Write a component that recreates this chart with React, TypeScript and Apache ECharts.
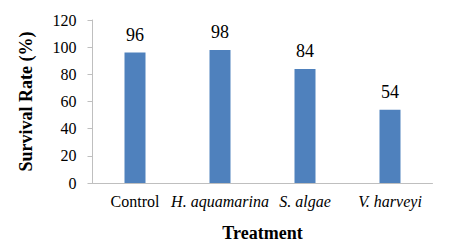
import React, { useEffect, useRef } from "react";
import * as echarts from "echarts";

const categories = ["Control", "H. aquamarina", "S. algae", "V. harveyi"];
const italicCategories = ["H. aquamarina", "S. algae", "V. harveyi"];
const survivalRate = [96, 98, 84, 54];
const yTicks = [0, 20, 40, 60, 80, 100, 120];

const FONT = "Liberation Serif";

export default function App() {
  const ref = useRef<HTMLDivElement>(null);
  useEffect(() => {
    if (!ref.current) return;
    const chart = echarts.init(ref.current, undefined, { renderer: "svg" });
    chart.setOption({
      animation: false,
      backgroundColor: "#ffffff",
      textStyle: { fontFamily: FONT, color: "#000" },
      grid: { left: 92.5, right: 30.5, top: 20, bottom: 69 },
      xAxis: {
        type: "category",
        data: categories,
        name: "Treatment",
        nameLocation: "middle",
        nameGap: 41,
        nameTextStyle: { fontFamily: FONT, fontSize: 18, fontWeight: "bold", color: "#000" },
        axisLine: { lineStyle: { color: "#bfbfbf", width: 1 } },
        axisTick: { show: false },
        axisLabel: {
          interval: 0,
          margin: 10,
          fontFamily: FONT,
          fontSize: 16,
          color: "#000",
          formatter: (v: string) => (italicCategories.includes(v) ? `{i|${v}}` : `{n|${v}}`),
          rich: {
            i: { fontFamily: FONT, fontSize: 16, fontStyle: "italic", fontWeight: "normal", color: "#000" },
            n: { fontFamily: FONT, fontSize: 16, fontWeight: "normal", color: "#000" },
          },
        },
      },
      yAxis: {
        type: "value",
        min: yTicks[0],
        max: yTicks[yTicks.length - 1],
        interval: 20,
        name: "Survival Rate (%)",
        nameLocation: "middle",
        nameGap: 58,
        nameTextStyle: { fontFamily: FONT, fontSize: 18, fontWeight: "bold", color: "#000" },
        axisLine: { show: true, lineStyle: { color: "#bfbfbf", width: 1 } },
        axisTick: { show: true, length: 5, lineStyle: { color: "#bfbfbf" } },
        splitLine: { show: false },
        axisLabel: { margin: 16, fontFamily: FONT, fontSize: 16, fontWeight: "normal", color: "#000" },
      },
      series: [
        {
          type: "bar",
          data: survivalRate,
          barWidth: 21,
          itemStyle: { color: "#4f81bd" },
          label: {
            show: true,
            position: "top",
            distance: 9,
            fontFamily: FONT,
            fontSize: 18,
            fontWeight: "normal",
            color: "#000",
          },
        },
      ],
    });
    return () => chart.dispose();
  }, []);
  return <div ref={ref} style={{ width: 463, height: 252, position: "absolute", left: 0, top: 0 }} />;
}
